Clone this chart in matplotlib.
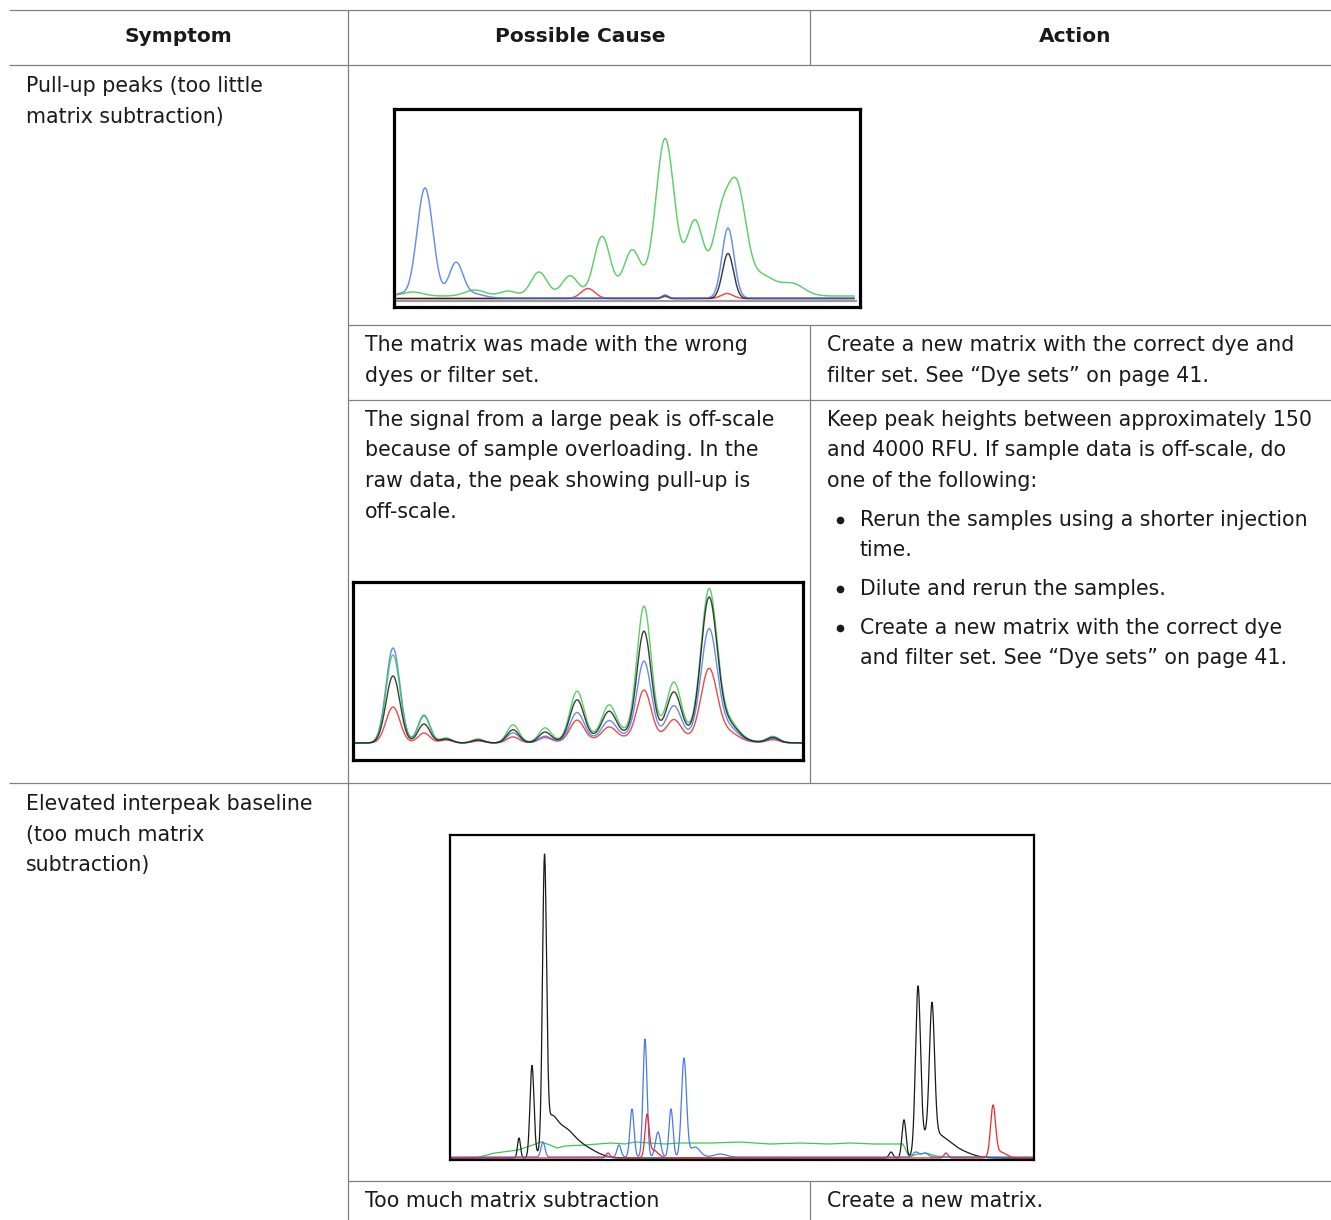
import numpy as np
import matplotlib
matplotlib.use("Agg")
import matplotlib.pyplot as plt

W, H = 1331, 1220
FONT = "DejaVu Sans"
FS = 14.8
TXT = "#1a1a1a"
GRID = "#808080"

# ---------------- table text ----------------
HEADERS = ["Symptom", "Possible Cause", "Action"]
SYMPTOM_1 = ["Pull-up peaks (too little", "matrix subtraction)"]
SYMPTOM_2 = ["Elevated interpeak baseline", "(too much matrix", "subtraction)"]
CAUSE_1 = ["The matrix was made with the wrong", "dyes or filter set."]
CAUSE_2 = ["The signal from a large peak is off-scale",
           "because of sample overloading. In the",
           "raw data, the peak showing pull-up is",
           "off-scale."]
CAUSE_3 = ["Too much matrix subtraction"]
ACTION_1 = ["Create a new matrix with the correct dye and",
            "filter set. See \u201cDye sets\u201d on page 41."]
ACTION_2 = ["Keep peak heights between approximately 150",
            "and 4000 RFU. If sample data is off-scale, do",
            "one of the following:"]
ACTION_2_BULLETS = [["Rerun the samples using a shorter injection", "time."],
                    ["Dilute and rerun the samples."],
                    ["Create a new matrix with the correct dye",
                     "and filter set. See \u201cDye sets\u201d on page 41."]]
ACTION_3 = ["Create a new matrix."]

# ---------------- electropherogram peaks: (position, height, width) ----------------
# plot 1 : pull-up peaks
P1_GREEN = [(19, 4, 10), (81, 6, 10), (114, 5, 8), (145, 24, 8), (176, 20, 8),
            (208, 58, 8), (238, 40, 8), (271, 145, 9), (301, 62, 8), (327, 62, 8),
            (343, 100, 9), (368, 18, 12), (398, 12, 12), (290, 14, 40)]
P1_BLUE = [(5, 4, 6), (31, 110, 8), (62, 35, 7), (80, 4, 10), (334, 70, 6), (271, 3, 3)]
P1_BLACK = [(334, 45, 5.5), (271, 3, 3)]
P1_RED = [(194, 10, 7), (333, 5, 6), (271, 2, 3)]

# plot 2 : off-scale pull-up
P2_GREEN = [(40, 88, 7), (71, 28, 6), (93, 5, 6), (125, 4, 6), (160, 18, 6), (192, 14, 6),
            (224, 48, 7), (256, 30, 7), (291, 125, 7), (321, 50, 7), (356, 145, 8),
            (375, 18, 10), (420, 6, 6), (300, 12, 50)]
P2_BLACK = [(40, 67, 7), (71, 19, 6), (93, 4, 6), (125, 3, 6), (160, 13, 6), (192, 10, 6),
            (224, 40, 7), (256, 25, 7), (291, 102, 7), (321, 42, 7), (356, 138, 8),
            (375, 16, 10), (420, 5, 6), (300, 10, 50)]
P2_BLUE = [(40, 95, 7), (71, 27, 6), (93, 4, 6), (125, 3, 6), (160, 10, 6), (192, 6, 6),
           (224, 28, 7), (256, 17, 7), (291, 74, 7), (321, 30, 7), (356, 108, 8),
           (375, 13, 10), (420, 4, 6), (300, 8, 50)]
P2_RED = [(40, 36, 7), (71, 10, 6), (93, 3, 6), (125, 2, 6), (160, 6, 6), (192, 5, 6),
          (224, 21, 7), (256, 12, 7), (291, 47, 7), (321, 18, 7), (356, 70, 8),
          (375, 9, 10), (420, 3, 6), (300, 6, 50)]

# plot 3 : elevated baseline
P3_BLACK = [(69, 20, 1.5), (82, 92, 2), (94.5, 280, 2), (100, 28, 6), (112, 24, 10),
            (130, 12, 14), (441, 6, 2), (454, 38, 2), (468, 162, 2.5), (482, 128, 2.5),
            (478, 20, 8), (492, 16, 10), (510, 6, 12)]
P3_BLUE = [(93, 15, 2), (169, 12, 2), (182, 48, 2), (195, 118, 2), (208, 25, 2.5),
           (221, 48, 2), (234, 98, 2.5), (245, 10, 5), (270, 3, 6), (466, 5, 3), (475, 4, 3)]
P3_RED = [(158, 5, 2), (197, 40, 2), (203, 8, 5), (496, 5, 2), (543, 50, 2.5), (550, 6, 6)]
P3_GREEN_X = [0, 25, 45, 68, 80, 91, 100, 107, 115, 135, 161, 175, 185, 200, 215, 230,
              262, 290, 320, 350, 379, 400, 425, 453, 459, 468, 476, 486, 496, 520, 573, 584]
P3_GREEN_Y = [1, 2, 7, 10, 14, 18, 15, 12, 14, 15, 17, 16, 18, 17, 16, 17,
              17, 18, 16, 17, 16, 17, 16, 16, 3, 6, 7, 4, 3, 3, 2, 2]

GREEN = "#3cc84e"
BLUE = "#4a78f0"
BLACK = "#1a1a1a"
RED = "#f02828"

fig = plt.figure(figsize=(W / 100, H / 100), dpi=100)
ax = fig.add_axes([0, 0, 1, 1])
ax.set_xlim(0, W)
ax.set_ylim(H, 0)
ax.axis("off")

# table lines
def hline(y, x0, x1):
    ax.plot([x0, x1], [y, y], color=GRID, lw=0.9, solid_capstyle="butt")

def vline(x, y0, y1):
    ax.plot([x, x], [y0, y1], color=GRID, lw=0.9, solid_capstyle="butt")

hline(10, 9, W)
hline(65, 9, W)
hline(325, 348, W)
hline(400, 348, W)
hline(783, 9, W)
hline(1181, 348, W)
vline(348, 10, H)
vline(810, 10, 65)
vline(810, 325, 783)
vline(810, 1181, H)

# header
for label, xc in zip(HEADERS, [178, 580, 1075]):
    ax.text(xc, 42, label, ha="center", va="baseline", fontsize=FS - 0.3, fontweight="bold",
            family=FONT, color=TXT)

LS = 30.5

def block(x, y0, lines):
    for i, s in enumerate(lines):
        ax.text(x, y0 + i * LS, s, ha="left", va="baseline", fontsize=FS,
                family=FONT, color=TXT)

block(26, 92, SYMPTOM_1)
block(26, 810, SYMPTOM_2)
block(365, 351, CAUSE_1)
block(365, 426, CAUSE_2)
block(365, 1207, CAUSE_3)
block(827, 351, ACTION_1)
block(827, 426, ACTION_2)
ys = [526, 595, 634]
for yb, lines in zip(ys, ACTION_2_BULLETS):
    ax.plot([840], [yb - 6], marker="o", ms=5.5, color=TXT, mew=0)
    block(860, yb, lines)
block(827, 1207, ACTION_3)


def inset(x0, y0, x1, y1, lw):
    a = fig.add_axes([x0 / W, 1 - y1 / H, (x1 - x0) / W, (y1 - y0) / H])
    a.set_xlim(0, x1 - x0)
    a.set_ylim(0, y1 - y0)
    a.set_xticks([])
    a.set_yticks([])
    for sp in a.spines.values():
        sp.set_linewidth(lw)
        sp.set_color("black")
    return a


def trace(x, base, peaks):
    y = np.full_like(x, float(base))
    for c, h, s in peaks:
        y = y + h * np.exp(-0.5 * ((x - c) / s) ** 2)
    return y

# plot 1
a1 = inset(394, 109, 860, 307, 2.3)
x1 = np.linspace(3, 460, 1500)
a1.plot([3, 462], [6, 6], color="#9a9a9a", lw=1.6)
a1.plot(x1, trace(x1, 8.5, P1_RED), color=RED, lw=1.05, alpha=0.85)
a1.plot(x1, trace(x1, 8.5, P1_BLACK), color=BLACK, lw=1.05, alpha=0.85)
a1.plot(x1, trace(x1, 9, P1_BLUE), color=BLUE, lw=1.05, alpha=0.85)
a1.plot(x1, trace(x1, 11, P1_GREEN), color=GREEN, lw=1.05, alpha=0.85)

# plot 2
a2 = inset(353, 582, 803, 760, 2.3)
x2 = np.linspace(0, 450, 1500)
a2.plot(x2, trace(x2, 17, P2_RED), color=RED, lw=1.0, alpha=0.85)
a2.plot(x2, trace(x2, 17, P2_BLUE), color=BLUE, lw=1.0, alpha=0.85)
a2.plot(x2, trace(x2, 17, P2_GREEN), color=GREEN, lw=1.0, alpha=0.85)
a2.plot(x2, trace(x2, 17, P2_BLACK), color=BLACK, lw=1.0, alpha=0.85)

# plot 3
a3 = inset(450, 835, 1034, 1160, 1.6)
x3 = np.linspace(0, 584, 3000)
a3.plot(P3_GREEN_X, P3_GREEN_Y, color=GREEN, lw=0.9)
a3.plot(x3, trace(x3, 2, P3_BLACK), color=BLACK, lw=0.9)
a3.plot(x3, trace(x3, 3, P3_BLUE), color=BLUE, lw=0.9)
a3.plot(x3, trace(x3, 2, P3_RED), color=RED, lw=0.9)

fig.savefig("out.png", dpi=100)
